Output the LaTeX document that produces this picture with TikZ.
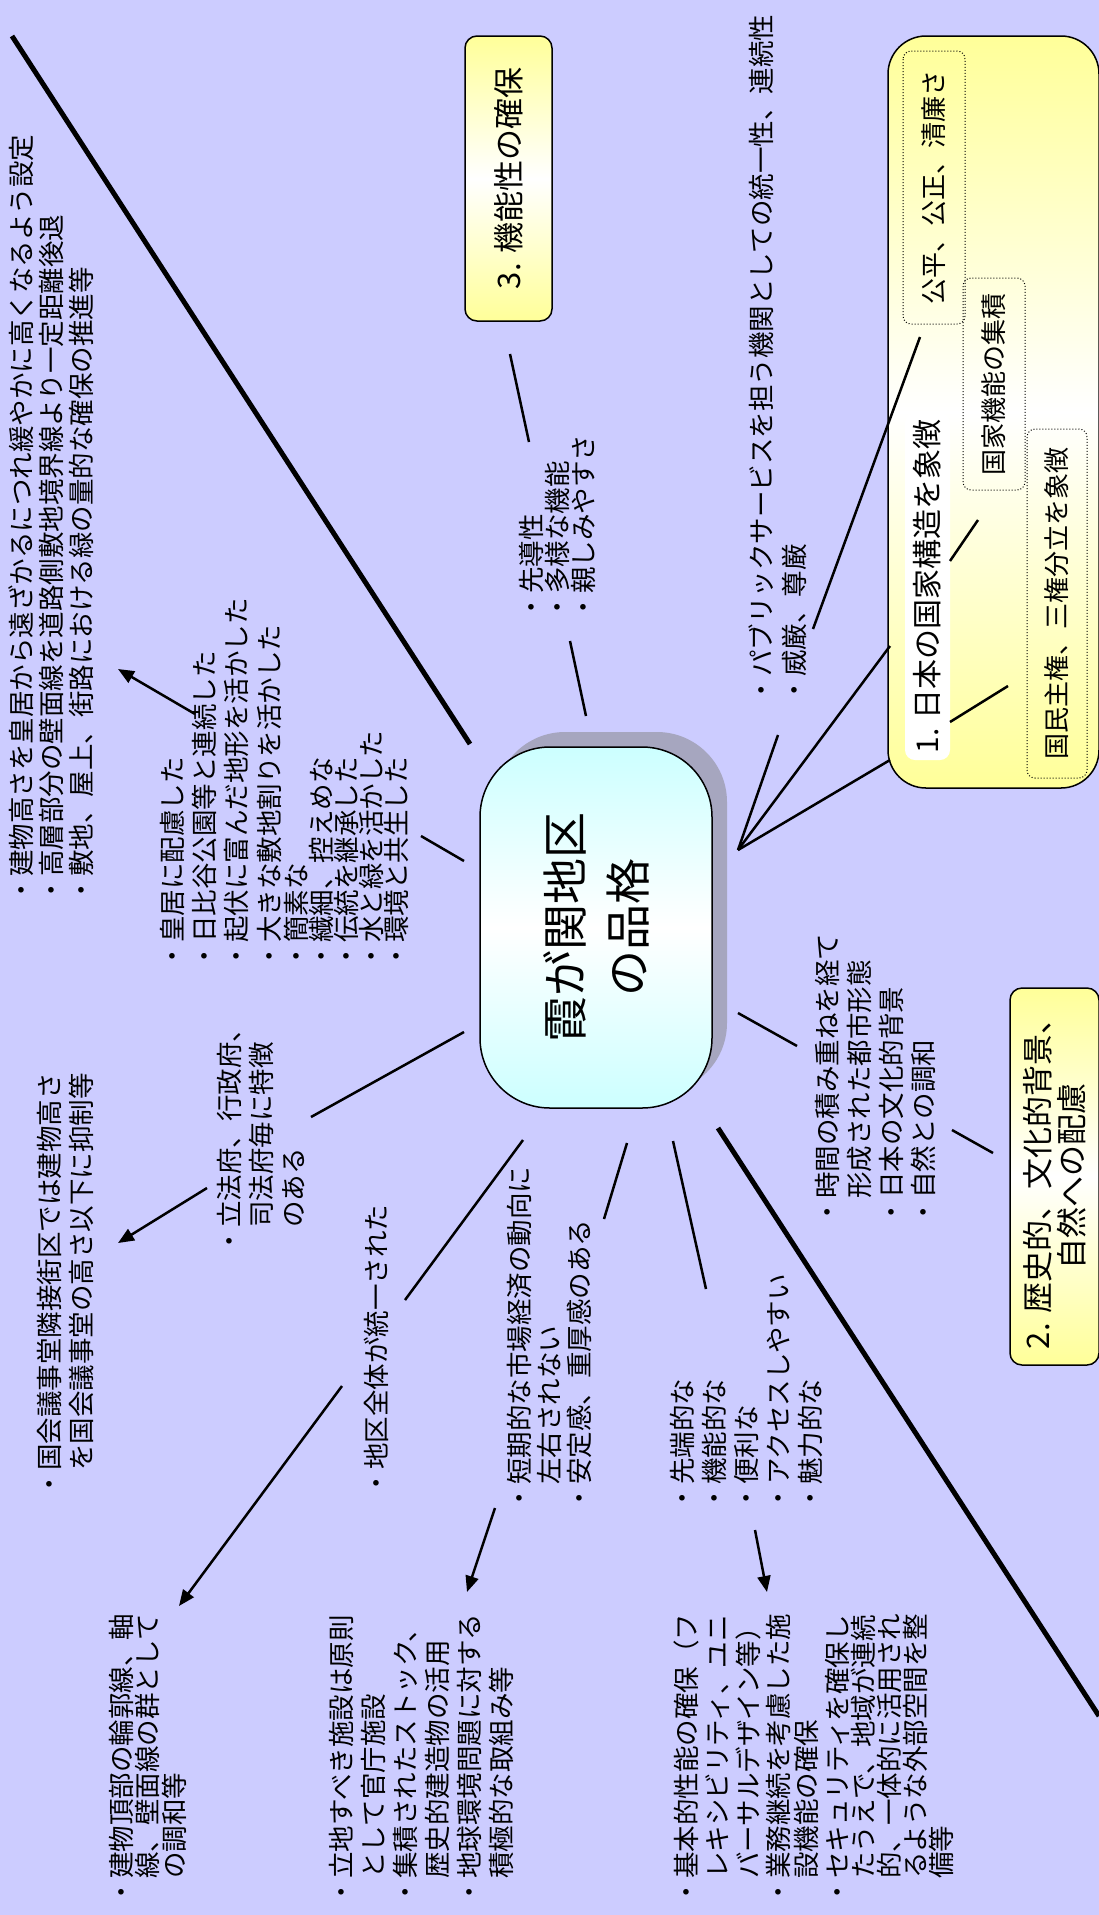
\documentclass[tikz,border=0pt]{standalone}
\usepackage{fontspec}
\newfontfamily\jpfont{Noto Sans CJK JP}
\usetikzlibrary{arrows.meta}

\definecolor{slidebg}{RGB}{204,204,255}
\definecolor{boxyellow}{RGB}{255,255,153}
\definecolor{hubcyan}{RGB}{204,255,255}
\definecolor{shadowgray}{RGB}{166,166,191}

\tikzset{
  bul/.style={rotate=90, anchor=north west, align=left, inner sep=0pt,
    font=\jpfont\fontsize{26.5}{#1}\selectfont},
  bul/.default=32,
  ybox/.style={rotate=90, draw=black, line width=1.5pt, rounded corners=12pt,
    top color=boxyellow, bottom color=boxyellow, middle color=white,
    inner sep=0pt, font=\jpfont\fontsize{31}{34}\selectfont},
  dbox/.style={rotate=90, draw=black, dotted, line width=1pt, rounded corners=8pt,
    inner sep=0pt, font=\jpfont\fontsize{26}{30}\selectfont},
  link/.style={line width=2.5pt},
  arr/.style={link, -{Triangle[length=16pt,width=13pt]}},
  axisline/.style={line width=5pt}
}

\begin{document}
\begin{tikzpicture}[x=1pt,y=-1pt]
\useasboundingbox (0,0) rectangle (1099,1915);
\fill[slidebg] (0,0) rectangle (1099,1915);

% long axis, broken at the title
\coordinate (axisA) at (12,36);
\coordinate (axisB) at (470,744);
\coordinate (axisC) at (718,1128);
\coordinate (axisD) at (1099,1716);
\draw[axisline] (axisA) -- (axisB);
\draw[axisline] (axisC) -- (axisD);

% title
\fill[shadowgray, rounded corners=70pt] (495,732) rectangle (727,1093);
\node[rotate=90, draw=black, line width=1.5pt, rounded corners=70pt,
  top color=hubcyan, bottom color=hubcyan, middle color=white,
  minimum width=361pt, minimum height=232pt, align=center, inner sep=0pt,
  font=\jpfont\fontsize{46}{63}\selectfont] (hinkaku) at (596,927.5) {霞が関地区\\の品格};

% headline boxes
\node[ybox, minimum width=285pt, minimum height=87pt] (kinosei) at (508.5,178.5) {3. 機能性の確保};
\node[ybox, minimum width=377pt, minimum height=89pt, align=center] (rekishi) at (1054.5,1176.5) {2. 歴史的、文化的背景、\\自然への配慮};
\node[ybox, rounded corners=38pt, minimum width=752pt, minimum height=211pt] (kozo) at (993.5,412) {};
\node[rotate=90, fill=white, rounded corners=10pt, minimum width=347pt, minimum height=45pt,
  inner sep=0pt, font=\jpfont\fontsize{30}{34}\selectfont] (kozoLabel) at (927.5,586.5) {1. 日本の国家構造を象徴};
\node[dbox, minimum width=273pt, minimum height=62pt] (kohei) at (934,187.5) {公平、公正、清廉さ};
\node[dbox, minimum width=212pt, minimum height=62pt] (kokka) at (994,384) {国家機能の集積};
\node[dbox, minimum width=349pt, minimum height=60pt] (kokumin) at (1057,603.5) {国民主権、三権分立を象徴};

% bullet lists
\node[bul=30] (takasa) at (8.75,903.25) {・建物高さを皇居から遠ざかるにつれ緩やかに高くなるよう設定\\
・高層部分の壁面線を道路側敷地境界線より一定距離後退\\
・敷地、屋上、街路における緑の量的な確保の推進等};
\node[bul=25] (kokyo) at (159.75,969.25) {・皇居に配慮した\\[7.3pt]
・日比谷公園等と連続した\\[7.3pt]
・起伏に富んだ地形を活かした\\[7.3pt]
・大きな敷地割りを活かした\\[2pt]
・簡素な\\
・繊細、控えめな\\
・伝統を継承した\\
・水と緑を活かした\\
・環境と共生した};
\node[bul] (gikai) at (36.75,1497.25) {・国会議事堂隣接街区では建物高さ\\
\hspace*{1em}を国会議事堂の高さ以下に抑制等};
\node[bul] (sanken) at (216.75,1254.25) {・立法府、行政府、\\
\hspace*{1em}司法府毎に特徴\\
\hspace*{1em}のある};
\node[bul] (toitsu) at (363.75,1496.25) {・地区全体が統一された};
\node[bul=30] (antei) at (506.75,1511.25) {・短期的な市場経済の動向に\\
\hspace*{1em}左右されない\\
・安定感、重厚感のある};
\node[bul=26.5] (chojo) at (108.75,1905.25) {・建物頂部の輪郭線、軸\\
\hspace*{1em}線、壁面線の群として\\
\hspace*{1em}の調和等};
\node[bul] (ritchi) at (328.75,1905.25) {・立地すべき施設は原則\\
\hspace*{1em}として官庁施設\\
・集積されたストック、\\
\hspace*{1em}歴史的建造物の活用\\
・地球環境問題に対する\\
\hspace*{1em}積極的な取組み等};
\node[bul=26] (kihon) at (673.75,1905.25) {・基本的性能の確保（フ\\[5pt]
\hspace*{1em}レキシビリティ、ユニ\\[5pt]
\hspace*{1em}バーサルデザイン等）\\[4pt]
・業務継続を考慮した施\\[2pt]
\hspace*{1em}設機能の確保\\[5pt]
・セキュリティを確保し\\
\hspace*{1em}たうえで、地域が連続\\
\hspace*{1em}的、一体的に活用され\\
\hspace*{1em}るような外部空間を整\\
\hspace*{1em}備等};
\node[bul] (sentan) at (669.75,1511.25) {・先端的な\\
・機能的な\\
・便利な\\
・アクセスしやすい\\
・魅力的な};
\node[bul=26] (sendo) at (518.75,620.25) {・先導性\\
・多様な機能\\
・親しみやすさ};
\node[bul=33] (public) at (748.75,703.25) {・パブリックサービスを担う機関としての統一性、連続性\\
・威厳、尊厳};
\node[bul] (jikan) at (814.75,1225.25) {・時間の積み重ねを経て\\
\hspace*{1em}形成された都市形態\\
・日本の文化的背景\\
・自然との調和};

% connector ends
\coordinate (hubR) at (738,850);
\coordinate (publicS) at (778,735);
\coordinate (publicE) at (813,629);
\coordinate (koheiE) at (920,337);
\coordinate (kozoA) at (890,646);
\coordinate (kozoB) at (890,760);
\coordinate (kokkaS) at (950,561);
\coordinate (kokkaE) at (978,520);
\coordinate (kokuminS) at (950,722);
\coordinate (kokuminE) at (1008,686);
\coordinate (sendoS) at (586,716);
\coordinate (sendoE) at (570,641);
\coordinate (kinoS) at (529,442);
\coordinate (kinoE) at (510,354);
\coordinate (kokyoS) at (464,861);
\coordinate (kokyoE) at (421,836);
\coordinate (takasaS) at (195,714);
\coordinate (takasaE) at (118,669);
\coordinate (sankenS) at (464,1032);
\coordinate (sankenE) at (311,1117);
\coordinate (gikaiS) at (207,1188);
\coordinate (gikaiE) at (118,1243);
\coordinate (toitsuS) at (523,1140);
\coordinate (toitsuE) at (405,1300);
\coordinate (chojoS) at (342,1386);
\coordinate (chojoE) at (179,1606);
\coordinate (anteiS) at (627,1143);
\coordinate (anteiE) at (604,1219);
\coordinate (ritchiS) at (495,1508);
\coordinate (ritchiE) at (467,1592);
\coordinate (sentanS) at (673,1141);
\coordinate (sentanE) at (706,1289);
\coordinate (kihonS) at (755,1530);
\coordinate (kihonE) at (767,1592);
\coordinate (jikanS) at (738,1013);
\coordinate (jikanE) at (797,1046);
\coordinate (rekishiS) at (952,1130);
\coordinate (rekishiE) at (993,1153);

% connectors
\draw[link] (hubR) -- (publicS);
\draw[link] (publicE) -- (koheiE);
\draw[link] (hubR) -- (kozoA);
\draw[link] (hubR) -- (kozoB);
\draw[link] (kokkaS) -- (kokkaE);
\draw[link] (kokuminS) -- (kokuminE);
\draw[link] (sendoS) -- (sendoE);
\draw[link] (kinoS) -- (kinoE);
\draw[link] (kokyoS) -- (kokyoE);
\draw[arr] (takasaS) -- (takasaE);
\draw[link] (sankenS) -- (sankenE);
\draw[arr] (gikaiS) -- (gikaiE);
\draw[link] (toitsuS) -- (toitsuE);
\draw[arr] (chojoS) -- (chojoE);
\draw[link] (anteiS) -- (anteiE);
\draw[arr] (ritchiS) -- (ritchiE);
\draw[link] (sentanS) -- (sentanE);
\draw[arr] (kihonS) -- (kihonE);
\draw[link] (jikanS) -- (jikanE);
\draw[link] (rekishiS) -- (rekishiE);
\end{tikzpicture}
\end{document}
